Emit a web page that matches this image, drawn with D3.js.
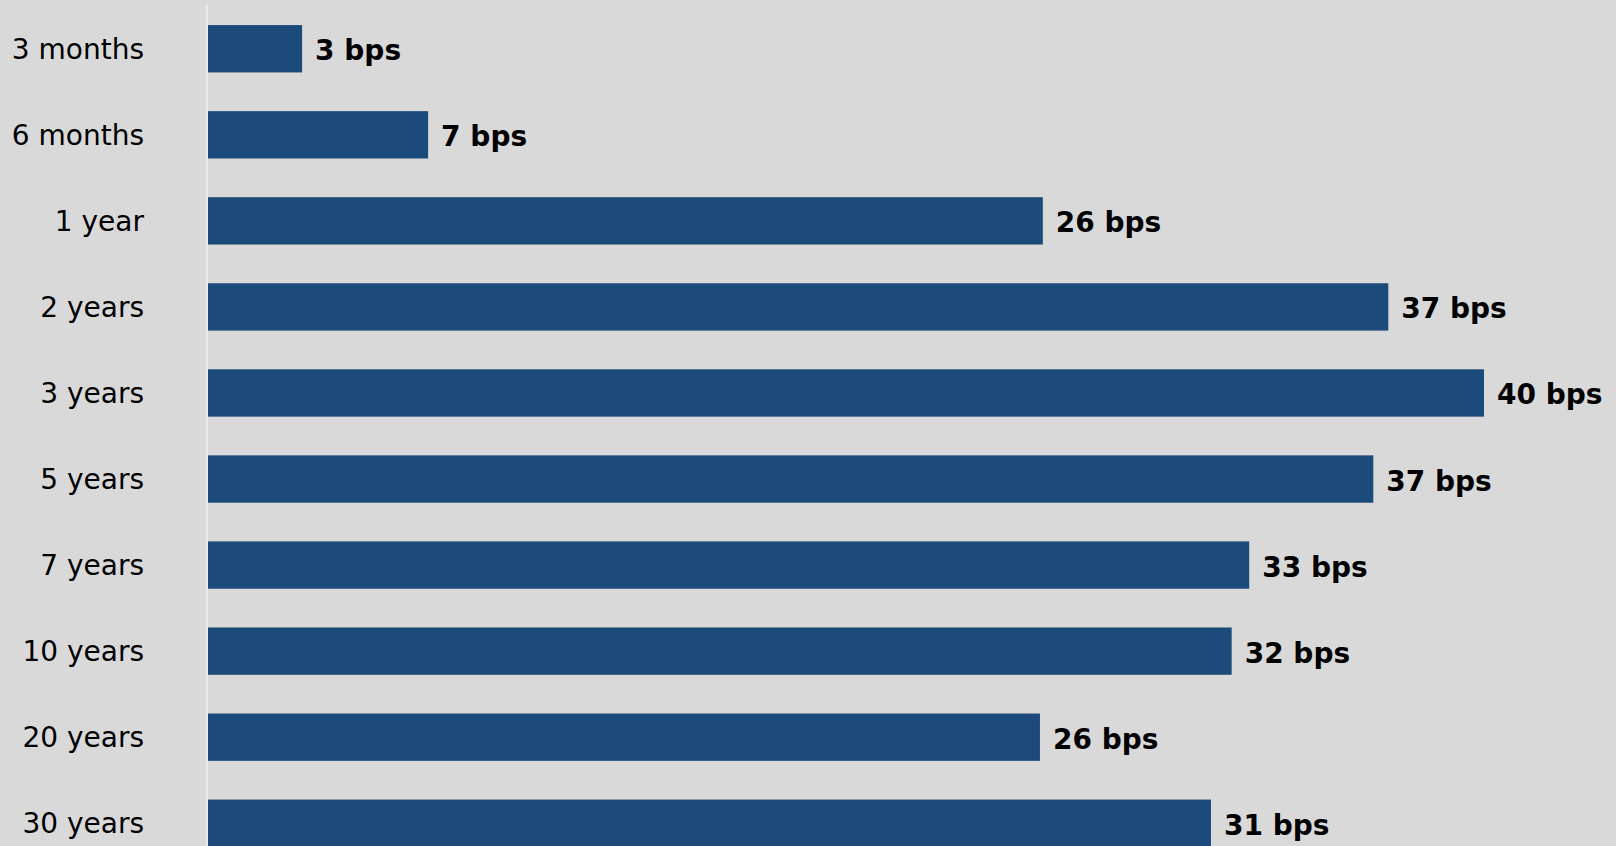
<!DOCTYPE html>
<html>
<head>
<meta charset="utf-8">
<script src="https://cdn.jsdelivr.net/npm/d3@7"></script>
<style>
  html, body { margin: 0; padding: 0; background: #d9d9d9; overflow: hidden; }
  svg { display: block; }
</style>
</head>
<body>
<svg id="chart" width="1616" height="846"></svg>
<script>
// Data (basis points)
const categories = ["3 months", "6 months", "1 year", "2 years", "3 years", "5 years", "7 years", "10 years", "20 years", "30 years"];
const values = [2.95, 6.9, 26.17, 37.0, 40.0, 36.53, 32.64, 32.09, 26.08, 31.44];
const valueLabels = ["3 bps", "7 bps", "26 bps", "37 bps", "40 bps", "37 bps", "33 bps", "32 bps", "26 bps", "31 bps"];

const W = 1616, H = 846;
const svg = d3.select("#chart");

svg.append("rect").attr("width", W).attr("height", H).attr("fill", "#d9d9d9");

const x = d3.scaleLinear().domain([0, 40]).range([208, 1484]);
const y = d3.scaleBand().domain(categories).range([1, 871]).paddingInner(0.45).paddingOuter(0.28);

const data = categories.map((c, i) => ({ c, v: values[i], label: valueLabels[i] }));

// bars
svg.append("g").selectAll("rect").data(data).join("rect")
  .attr("x", x(0))
  .attr("y", d => y(d.c))
  .attr("width", d => x(d.v) - x(0))
  .attr("height", y.bandwidth())
  .attr("fill", "#1c4a7a");

// vertical axis line
svg.append("line")
  .attr("x1", x(0) - 1).attr("x2", x(0) - 1)
  .attr("y1", 5).attr("y2", H)
  .attr("stroke", "#ebebeb").attr("stroke-width", 2);

// category labels
const yAxis = d3.axisLeft(y).tickSize(0).tickPadding(0);
const gAxis = svg.append("g").attr("transform", "translate(144,0)").call(yAxis);
gAxis.select(".domain").remove();
gAxis.selectAll("text")
  .attr("dy", null)
  .attr("y", 10)
  .attr("x", 0)
  .attr("text-anchor", "end")
  .attr("fill", "#000")
  .style("font-family", "'DejaVu Sans', sans-serif")
  .style("font-size", "28px");

// value labels
svg.append("g").selectAll("text").data(data).join("text")
  .attr("x", d => x(d.v) + 13)
  .attr("y", d => y(d.c) + y.bandwidth() / 2 + 11.5)
  .attr("fill", "#000")
  .style("font-family", "'DejaVu Sans', sans-serif")
  .style("font-weight", "bold")
  .style("font-size", "28px")
  .text(d => d.label);
</script>
</body>
</html>
